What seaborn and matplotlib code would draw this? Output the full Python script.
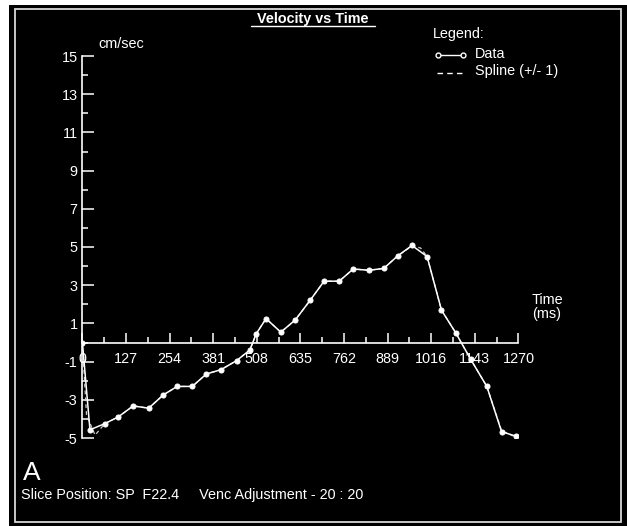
import matplotlib
matplotlib.use("Agg")
import matplotlib.pyplot as plt
import seaborn as sns
import pandas as pd
from matplotlib.patches import Rectangle
from matplotlib.lines import Line2D

# ---- data ----
time_ms = [0, 22, 65, 104, 148, 193, 236, 276, 320, 361, 404, 449, 488, 506,
           535, 578, 620, 663, 704, 748, 789, 834, 878, 918, 960, 1004, 1046,
           1088, 1131, 1178, 1221, 1262]
velocity = [0, -4.57, -4.25, -3.90, -3.32, -3.44, -2.74, -2.30, -2.30, -1.65,
            -1.42, -0.95, -0.39, 0.45, 1.25, 0.54, 1.18, 2.20, 3.21, 3.21,
            3.85, 3.78, 3.88, 4.53, 5.08, 4.50, 1.69, 0.49, -0.88, -2.30,
            -4.67, -4.90]

spline_time = [0, 12, 37, 65, 104, 148, 193, 236, 276, 320, 361, 404, 449,
               488, 506, 535, 578, 620, 663, 704, 748, 789, 834, 878, 918,
               960, 985, 1004, 1046, 1088, 1131, 1178, 1221, 1262]
spline_vel = [0, -3.80, -4.85, -4.25, -3.90, -3.32, -3.44, -2.74, -2.30,
              -2.30, -1.65, -1.42, -0.95, -0.39, 0.45, 1.25, 0.54, 1.18, 2.20,
              3.21, 3.21, 3.85, 3.78, 3.88, 4.53, 5.05, 4.95, 4.50, 1.69,
              0.49, -0.88, -2.30, -4.62, -4.95]

x_ticks = [0, 127, 254, 381, 508, 635, 762, 889, 1016, 1143, 1270]
y_ticks = [-5, -3, -1, 1, 3, 5, 7, 9, 11, 13, 15]

title = "Velocity vs Time"
y_unit = "cm/sec"
x_unit = "Time\n(ms)"
footer = "Slice Position: SP  F22.4     Venc Adjustment - 20 : 20"

sns.set_style("dark")
plt.rcParams["font.family"] = ["Liberation Sans", "DejaVu Sans"]

FS = 10.4
W, H = 627, 526
fig = plt.figure(figsize=(W / 100, H / 100), dpi=100, facecolor="white")

# overlay in pixel coords
ov = fig.add_axes([0, 0, 1, 1])
ov.set_xlim(0, W)
ov.set_ylim(H, 0)
ov.axis("off")
ov.add_patch(Rectangle((9, 5), W - 9, H - 5, facecolor="black", edgecolor="none", zorder=0))
ov.add_patch(Rectangle((15, 9), 606, 513, facecolor="none", edgecolor="#d8d8d8", lw=1.3, zorder=1))

# main axes
x0, x1 = 82.4, 518.4
ytop, ybot = 56.0, 438.0
ax = fig.add_axes([x0 / W, 1 - ybot / H, (x1 - x0) / W, (ybot - ytop) / H])
ax.set_facecolor("none")
ax.patch.set_alpha(0)

df = pd.DataFrame({"t": time_ms, "v": velocity})
sdf = pd.DataFrame({"t": spline_time, "v": spline_vel})
sns.lineplot(data=sdf, x="t", y="v", ax=ax, color="#cfcfcf", lw=0.9,
             linestyle=(0, (3, 2.5)), zorder=3)
sns.lineplot(data=df, x="t", y="v", ax=ax, color="white", lw=1.1,
             marker="o", markersize=3.6, markeredgecolor="white", zorder=4)

ax.set_xlim(0, 1270)
ax.set_ylim(-5, 15)
for s in ["top", "right"]:
    ax.spines[s].set_visible(False)
ax.spines["left"].set_position(("data", 0))
ax.spines["bottom"].set_position(("data", 0))
for s in ["left", "bottom"]:
    ax.spines[s].set_color("white")
    ax.spines[s].set_linewidth(1.2)
    ax.spines[s].set_visible(True)

ax.set_xticks(x_ticks)
ax.set_xticklabels([str(v) for v in x_ticks])
ax.set_xticks([v + 63.5 for v in x_ticks[:-1]], minor=True)
ax.set_yticks(y_ticks)
ax.set_yticklabels([str(v) for v in y_ticks])
ax.set_yticks([-4, -2, 0, 2, 4, 6, 8, 10, 12, 14], minor=True)

ax.tick_params(axis="x", which="both", bottom=True, top=False)
ax.tick_params(axis="y", which="both", left=True, right=False)
ax.tick_params(axis="x", which="major", direction="in", length=7.5, width=1.1,
               color="white", labelcolor="white", labelsize=FS, pad=6.5)
ax.tick_params(axis="x", which="minor", direction="in", length=4, width=1.1,
               color="white")
ax.tick_params(axis="y", which="major", direction="in", length=8.5, width=1.1,
               color="white", labelcolor="white", labelsize=FS, pad=3.5)
ax.tick_params(axis="y", which="minor", direction="in", length=4.5, width=1.1,
               color="white")
ax.grid(False)
ax.set_xlabel("")
ax.set_ylabel("")

# texts
ov.text(313, 23.5, title, color="white", fontsize=FS, fontweight="bold",
        ha="center", va="baseline")
ov.plot([251, 375], [26, 26], color="white", lw=1.0)
ov.text(98, 44, y_unit, color="white", fontsize=FS, ha="left", va="center")
ov.text(547, 307, x_unit, color="white", fontsize=FS, ha="center", va="center",
        linespacing=0.95)

ov.text(433, 34, "Legend:", color="white", fontsize=FS, ha="left", va="center")
ov.add_line(Line2D([438, 463], [55, 55], color="white", lw=1.0, marker="o",
                   markersize=3.5, markerfacecolor="black", markeredgecolor="white",
                   markevery=[0, 1]))
ov.text(475, 54, "Data", color="white", fontsize=FS, ha="left", va="center")
ov.add_line(Line2D([437, 463], [72.5, 72.5], color="white", lw=1.0,
                   linestyle=(0, (4, 3))))
ov.text(475, 71.5, "Spline (+/- 1)", color="white", fontsize=FS, ha="left",
        va="center")

ov.text(23, 473, "A", color="white", fontsize=19, ha="left", va="center")
ov.text(21, 495, footer, color="white", fontsize=FS, ha="left", va="center")

fig.savefig("out.png", dpi=100, facecolor=fig.get_facecolor())
